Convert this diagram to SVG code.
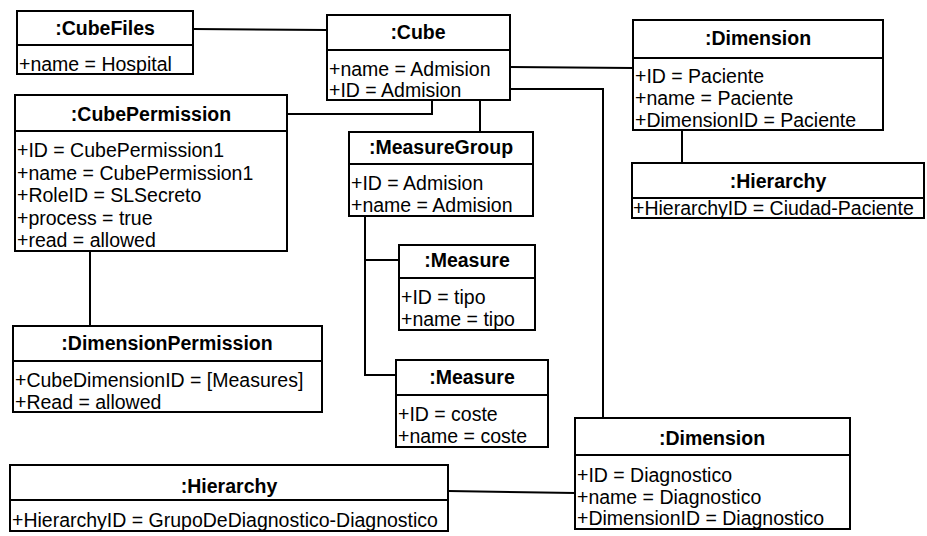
<svg xmlns="http://www.w3.org/2000/svg" width="927" height="536" viewBox="0 0 927 536">
  <style>
    .box { fill: #fff; stroke: #000; stroke-width: 2; }
    .div { stroke: #000; stroke-width: 2; }
    .hd { font-family: "Liberation Sans", Arial, sans-serif; font-size: 19.5px; font-weight: bold; text-anchor: middle; fill: #000; }
    .at { font-family: "Liberation Sans", Arial, sans-serif; font-size: 19.5px; fill: #000; }
    .conn { fill: none; stroke: #000; stroke-width: 2; }
  </style>
  <rect width="927" height="536" fill="#fff"/>

  <!-- connectors -->
  <g id="connectors">
    <path class="conn" d="M193,29 L327,30"/>
    <path class="conn" d="M510,67 L633,68"/>
    <path class="conn" d="M510,89 L603,89 L603,418"/>
    <path class="conn" d="M432,100 L432,114 L287,114"/>
    <path class="conn" d="M480,100 L480,132"/>
    <path class="conn" d="M682,130 L682,163"/>
    <path class="conn" d="M90,251 L90,326"/>
    <path class="conn" d="M365,216 L365,375 L396,375"/>
    <path class="conn" d="M365,260 L399,260"/>
    <path class="conn" d="M448,491 L575,493"/>
  </g>

  <!-- :CubeFiles -->
  <g id="cubefiles">
    <rect class="box" x="17" y="11" width="176" height="63"/>
    <line class="div" x1="17" y1="45" x2="193" y2="45"/>
    <text class="hd" x="105" y="35">:CubeFiles</text>
    <text class="at" x="19" y="71">+name = Hospital</text>
  </g>

  <!-- :Cube -->
  <g id="cube">
    <rect class="box" x="327" y="15" width="183" height="85"/>
    <line class="div" x1="327" y1="50" x2="510" y2="50"/>
    <text class="hd" x="418" y="39">:Cube</text>
    <text class="at" x="329" y="76">+name = Admision</text>
    <text class="at" x="329" y="97">+ID = Admision</text>
  </g>

  <!-- :Dimension (Paciente) -->
  <g id="dimension-paciente">
    <rect class="box" x="633" y="20" width="250" height="110"/>
    <line class="div" x1="633" y1="58" x2="883" y2="58"/>
    <text class="hd" x="758" y="45">:Dimension</text>
    <text class="at" x="635" y="83">+ID = Paciente</text>
    <text class="at" x="635" y="105">+name = Paciente</text>
    <text class="at" x="635" y="127">+DimensionID = Paciente</text>
  </g>

  <!-- :Hierarchy (Ciudad-Paciente) -->
  <g id="hierarchy-paciente">
    <rect class="box" x="632" y="163" width="292" height="55"/>
    <line class="div" x1="632" y1="198" x2="924" y2="198"/>
    <text class="hd" x="778" y="188">:Hierarchy</text>
    <text class="at" x="633" y="215">+HierarchyID = Ciudad-Paciente</text>
  </g>

  <!-- :CubePermission -->
  <g id="cubepermission">
    <rect class="box" x="15" y="95" width="272" height="156"/>
    <line class="div" x1="15" y1="131" x2="287" y2="131"/>
    <text class="hd" x="151" y="121">:CubePermission</text>
    <text class="at" x="17" y="157">+ID = CubePermission1</text>
    <text class="at" x="17" y="179.5">+name = CubePermission1</text>
    <text class="at" x="17" y="202">+RoleID = SLSecreto</text>
    <text class="at" x="17" y="224.5">+process = true</text>
    <text class="at" x="17" y="247">+read = allowed</text>
  </g>

  <!-- :MeasureGroup -->
  <g id="measuregroup">
    <rect class="box" x="349" y="132" width="184" height="84"/>
    <line class="div" x1="349" y1="164" x2="533" y2="164"/>
    <text class="hd" x="441" y="154">:MeasureGroup</text>
    <text class="at" x="351" y="190">+ID = Admision</text>
    <text class="at" x="351" y="212">+name = Admision</text>
  </g>

  <!-- :Measure (tipo) -->
  <g id="measure-tipo">
    <rect class="box" x="399" y="245" width="136" height="85"/>
    <line class="div" x1="399" y1="278" x2="535" y2="278"/>
    <text class="hd" x="467" y="267">:Measure</text>
    <text class="at" x="401" y="304">+ID = tipo</text>
    <text class="at" x="401" y="326">+name = tipo</text>
  </g>

  <!-- :Measure (coste) -->
  <g id="measure-coste">
    <rect class="box" x="396" y="360" width="152" height="87"/>
    <line class="div" x1="396" y1="395" x2="548" y2="395"/>
    <text class="hd" x="472" y="384">:Measure</text>
    <text class="at" x="398" y="421">+ID = coste</text>
    <text class="at" x="398" y="443">+name = coste</text>
  </g>

  <!-- :DimensionPermission -->
  <g id="dimensionpermission">
    <rect class="box" x="13" y="326" width="309" height="86"/>
    <line class="div" x1="13" y1="361" x2="322" y2="361"/>
    <text class="hd" x="167" y="350">:DimensionPermission</text>
    <text class="at" x="15" y="387">+CubeDimensionID = [Measures]</text>
    <text class="at" x="15" y="409">+Read = allowed</text>
  </g>

  <!-- :Hierarchy (GrupoDeDiagnostico-Diagnostico) -->
  <g id="hierarchy-diagnostico">
    <rect class="box" x="10" y="465" width="438" height="66"/>
    <line class="div" x1="10" y1="500" x2="448" y2="500"/>
    <text class="hd" x="229" y="493">:Hierarchy</text>
    <text class="at" x="12" y="527">+HierarchyID = GrupoDeDiagnostico-Diagnostico</text>
  </g>

  <!-- :Dimension (Diagnostico) -->
  <g id="dimension-diagnostico">
    <rect class="box" x="575" y="418" width="275" height="111"/>
    <line class="div" x1="575" y1="455" x2="850" y2="455"/>
    <text class="hd" x="712" y="445">:Dimension</text>
    <text class="at" x="577" y="482">+ID = Diagnostico</text>
    <text class="at" x="577" y="504">+name = Diagnostico</text>
    <text class="at" x="577" y="525">+DimensionID = Diagnostico</text>
  </g>
</svg>
